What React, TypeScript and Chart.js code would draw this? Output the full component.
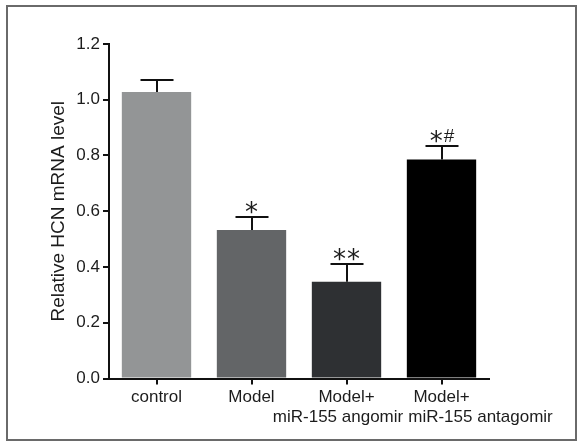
import React, { useEffect, useRef } from "react";
import { Chart, registerables } from "chart.js";

Chart.register(...registerables);

// ---- data ----
const categories: string[][] = [
  ["control"],
  ["Model"],
  ["Model+", "miR-155 angomir"],
  ["Model+", "miR-155 antagomir"],
];
const meanValues = [1.028, 0.533, 0.347, 0.786];
const errorValues = [0.044, 0.045, 0.065, 0.049];
const significance = ["", "*", "**", "*#"];
const yTickValues = [0, 0.2, 0.4, 0.6, 0.8, 1.0, 1.2];
const yTitle = "Relative HCN mRNA level";

// ---- style ----
const barColors = ["#939596", "#636567", "#2e3033", "#000000"];
const W = 582;
const H = 445;
const FONT = "'Liberation Sans', Arial, Helvetica, sans-serif";
const TEXT = "#1c1c1c";
const AXIS = "#111111";
const CAP_W = 33;
const SECOND_LINE_SHIFT = [0, 0, -8.5, 39];

const overlayPlugin = {
  id: "overlay",
  afterDatasetsDraw(chart: any) {
    const ctx: CanvasRenderingContext2D = chart.ctx;
    const meta = chart.getDatasetMeta(0);
    const ys = chart.scales.y;
    ctx.save();
    meta.data.forEach((bar: any, i: number) => {
      const x = Math.round(bar.x);
      const top = ys.getPixelForValue(meanValues[i]);
      const errTop = Math.round(ys.getPixelForValue(meanValues[i] + errorValues[i]));
      ctx.strokeStyle = AXIS;
      ctx.lineWidth = 2;
      ctx.beginPath();
      ctx.moveTo(x, top);
      ctx.lineTo(x, errTop);
      ctx.moveTo(x - CAP_W / 2, errTop);
      ctx.lineTo(x + CAP_W / 2, errTop);
      ctx.stroke();

      const s = significance[i];
      if (s) {
        const chars = s.split("");
        const fonts = chars.map((c) =>
          c === "*" ? "26px 'DejaVu Sans', sans-serif" : "19px " + FONT
        );
        const widths = chars.map((c, k) => {
          ctx.font = fonts[k];
          const m = ctx.measureText(c);
          return c === "*" ? m.actualBoundingBoxLeft + m.actualBoundingBoxRight + 1 : m.width;
        });
        const total = widths.reduce((a, b) => a + b, 0);
        let cx = x - total / 2;
        ctx.fillStyle = TEXT;
        ctx.textAlign = "left";
        ctx.textBaseline = "alphabetic";
        chars.forEach((c, k) => {
          ctx.font = fonts[k];
          const m = ctx.measureText(c);
          const gap = c === "*" ? 3 : 4;
          const yb = errTop - gap - m.actualBoundingBoxDescent;
          const xo = c === "*" ? m.actualBoundingBoxLeft : 0;
          ctx.fillText(c, cx + xo, yb);
          cx += widths[k];
        });
      }
    });
    ctx.restore();
  },
  afterDraw(chart: any) {
    const ctx: CanvasRenderingContext2D = chart.ctx;
    const xs = chart.scales.x;
    const axisY = chart.chartArea.bottom;
    ctx.save();
    ctx.fillStyle = TEXT;
    ctx.font = "17px " + FONT;
    ctx.textAlign = "center";
    ctx.textBaseline = "alphabetic";
    categories.forEach((lines, i) => {
      const x = xs.getPixelForTick(i);
      lines.forEach((line, k) => {
        const dx = k === 0 ? 0 : SECOND_LINE_SHIFT[i];
        ctx.fillText(line, x + dx, axisY + 23 + k * 20);
      });
    });
    ctx.restore();
  },
};

function BarChart() {
  const ref = useRef<HTMLCanvasElement | null>(null);
  useEffect(() => {
    if (!ref.current) return;
    const chart = new Chart(ref.current, {
      type: "bar",
      data: {
        labels: categories.map((c) => c.join(" ")),
        datasets: [
          {
            data: meanValues,
            backgroundColor: barColors,
            borderWidth: 0,
            barPercentage: 0.73,
            categoryPercentage: 1,
          },
        ],
      },
      options: {
        responsive: false,
        animation: false,
        devicePixelRatio: 1,
        layout: { padding: { left: 0, right: 93, top: 44, bottom: 0 } },
        plugins: {
          legend: { display: false },
          tooltip: { enabled: false },
          title: { display: false },
        },
        scales: {
          x: {
            type: "category",
            offset: true,
            ticks: { display: false, autoSkip: false },
            grid: {
              display: true,
              drawOnChartArea: false,
              drawTicks: true,
              tickLength: 6,
              color: AXIS,
              lineWidth: 2,
              offset: false,
            },
            border: { display: true, color: AXIS, width: 2 },
            afterFit: (scale: any) => {
              scale.height = 66.5;
            },
          },
          y: {
            min: 0,
            max: 1.2,
            afterBuildTicks: (scale: any) => {
              scale.ticks = yTickValues.map((v) => ({ value: v }));
            },
            ticks: {
              color: TEXT,
              padding: 3,
              font: { family: FONT, size: 17 },
              callback: (v: any) => Number(v).toFixed(1),
            },
            grid: {
              display: true,
              drawOnChartArea: false,
              drawTicks: true,
              tickLength: 6,
              color: AXIS,
              lineWidth: 2,
            },
            border: { display: true, color: AXIS, width: 2 },
            title: {
              display: true,
              text: yTitle,
              color: TEXT,
              font: { family: FONT, size: 19 },
              padding: { top: 47.6, bottom: 0 },
            },
            afterFit: (scale: any) => {
              scale.width = 109;
            },
          },
        },
      },
      plugins: [overlayPlugin],
    } as any);
    return () => chart.destroy();
  }, []);
  return (
    <canvas
      ref={ref}
      width={W}
      height={H}
      style={{ position: "absolute", left: 0, top: 0, width: W, height: H }}
    />
  );
}

export default function App() {
  return (
    <div
      style={{
        position: "absolute",
        left: 0,
        top: 0,
        width: W,
        height: H,
        background: "#ffffff",
        overflow: "hidden",
      }}
    >
      <div
        style={{
          position: "absolute",
          left: 6,
          top: 5,
          width: 571,
          height: 436,
          boxSizing: "border-box",
          border: "2px solid #6a6a6a",
        }}
      />
      <BarChart />
    </div>
  );
}
